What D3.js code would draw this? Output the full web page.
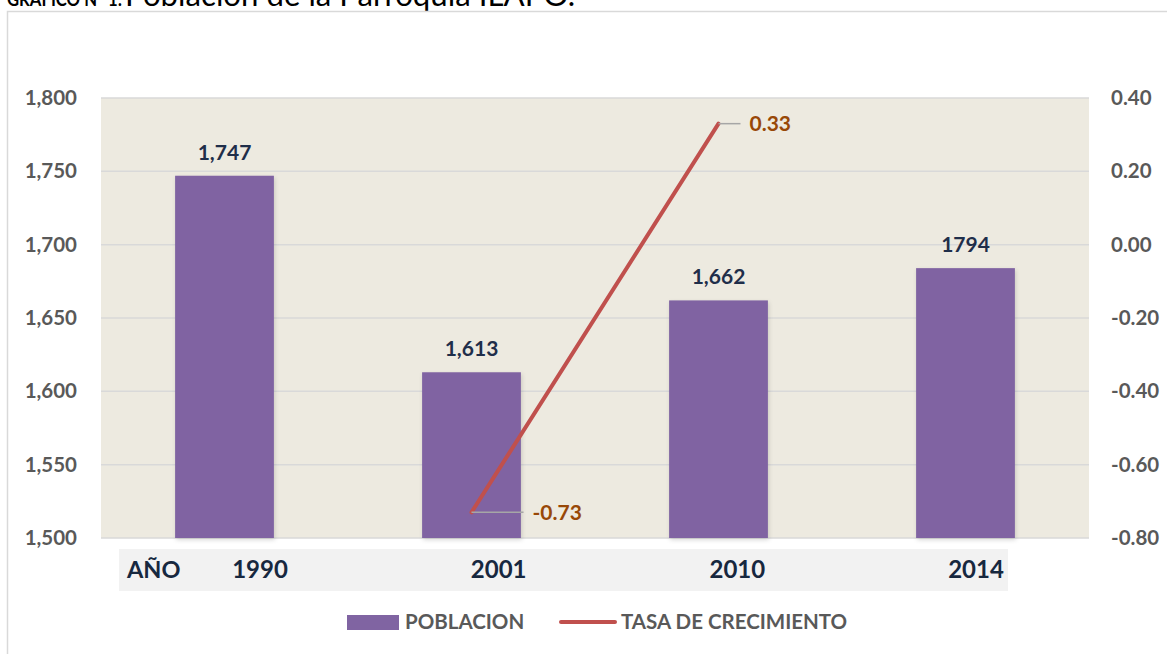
<!DOCTYPE html>
<html><head><meta charset="utf-8">
<script src="https://cdn.jsdelivr.net/npm/d3@7"></script>
<style>
html,body{margin:0;padding:0;background:#fff;}
svg{display:block;font-family:Lato,"Open Sans",sans-serif;}
</style></head>
<body>
<svg id="c" width="1167" height="654"></svg>
<script>
const categories = ["1990","2001","2010","2014"];
const poblacion = [1747, 1613, 1662, 1684];
const poblacionLabels = ["1,747","1,613","1,662","1794"];
const tasaYears = ["2001","2010"];
const tasa = [-0.73, 0.33];
const tasaLabels = ["-0.73","0.33"];
const leftTicks = [1500,1550,1600,1650,1700,1750,1800];
const rightTicks = [-0.8,-0.6,-0.4,-0.2,0,0.2,0.4];
const titleBold = "GRÁFICO N° 1:";
const titleRest = "Población de la Parroquia ILAPO.";
const axisRowLabel = "AÑO";
const legendNames = ["POBLACION","TASA DE CRECIMIENTO"];

const svg = d3.select("#c");
const m = {l:101, r:1089, t:98, b:538};

// title (cut at top, as in the source)
svg.append("text").attr("x",7).attr("y",6).attr("font-size",19).attr("font-weight","bold")
  .attr("textLength",115).attr("lengthAdjust","spacingAndGlyphs").attr("fill","#000").text(titleBold);
svg.append("text").attr("x",125).attr("y",6).attr("font-size",30)
  .attr("textLength",450).attr("lengthAdjust","spacingAndGlyphs").attr("fill","#000").text(titleRest);

// outer chart border
svg.append("path").attr("d","M1167,11.5 H7.5 V654").attr("fill","none")
  .attr("stroke","#D9D9D9").attr("stroke-width",1.5);

const x = d3.scaleBand().domain(categories).range([m.l,m.r]).paddingInner(0.6).paddingOuter(0.3);
const yL = d3.scaleLinear().domain([1500,1800]).range([m.b,m.t]);
const yR = d3.scaleLinear().domain([-0.8,0.4]).range([m.b,m.t]);

// plot background
svg.append("rect").attr("x",m.l).attr("y",m.t).attr("width",m.r-m.l).attr("height",m.b-m.t)
  .attr("fill","#EDEAE0");

// gridlines
svg.append("g").selectAll("line").data(leftTicks).join("line")
  .attr("x1",m.l).attr("x2",m.r).attr("y1",d=>yL(d)).attr("y2",d=>yL(d))
  .attr("stroke","#D9D9D9").attr("stroke-width",1.5);

// shadow filter
const defs = svg.append("defs");
const f = defs.append("filter").attr("id","sh").attr("x","-10%").attr("y","-10%").attr("width","130%").attr("height","130%");
f.append("feDropShadow").attr("dx",1).attr("dy",2).attr("stdDeviation",2).attr("flood-color","#000").attr("flood-opacity",0.15);

// bars
svg.append("g").selectAll("rect").data(categories).join("rect")
  .attr("x",d=>x(d)).attr("width",x.bandwidth())
  .attr("y",(d,i)=>yL(poblacion[i])).attr("height",(d,i)=>yL(1500)-yL(poblacion[i]))
  .attr("fill","#8064A2").attr("filter","url(#sh)");

// bar labels
svg.append("g").selectAll("text").data(categories).join("text")
  .attr("x",d=>x(d)+x.bandwidth()/2).attr("y",(d,i)=>yL(poblacion[i])-16)
  .attr("text-anchor","middle").attr("font-size",21).attr("font-weight","bold")
  .attr("fill","#1F2E4A").text((d,i)=>poblacionLabels[i]);

// left axis
const axL = d3.axisLeft(yL).tickValues(leftTicks).tickSize(0).tickPadding(0).tickFormat(d3.format(","));
const gL = svg.append("g").attr("transform",`translate(77,0)`).call(axL);
gL.select(".domain").remove();
gL.selectAll("text").attr("font-size",20.5).attr("font-weight","bold").attr("fill","#595959")
  .attr("font-family","Lato, sans-serif").attr("dy","0.32em");

// right axis
const axR = d3.axisRight(yR).tickValues(rightTicks).tickSize(0).tickPadding(0).tickFormat(d3.format(".2f"));
const gR = svg.append("g").attr("transform",`translate(1111,0)`).call(axR);
gR.select(".domain").remove();
gR.selectAll("text").attr("font-size",20.5).attr("font-weight","bold").attr("fill","#595959")
  .attr("font-family","Lato, sans-serif").attr("dy","0.32em")
  .text(d=>d3.format(".2f")(d).replace("−","-"));

// line
const cx = d=>x(d)+x.bandwidth()/2;
const line = d3.line().x((d,i)=>cx(tasaYears[i])).y(d=>yR(d));
svg.append("path").datum(tasa).attr("d",line).attr("fill","none")
  .attr("stroke","#C0504D").attr("stroke-width",4).attr("stroke-linecap","round");

// line labels with leaders
const lg = svg.append("g");
tasa.forEach((v,i)=>{
  const px = cx(tasaYears[i]), py = yR(v);
  const len = i===0 ? 52 : 22;
  lg.append("line").attr("x1",px).attr("x2",px+len).attr("y1",py).attr("y2",py)
    .attr("stroke","#A6A6A6").attr("stroke-width",1.5);
  lg.append("text").attr("x",px+len+9).attr("y",py).attr("dy","0.35em")
    .attr("font-size",21).attr("font-weight","bold").attr("fill","#984807").text(tasaLabels[i]);
});

// category table row
svg.append("rect").attr("x",119).attr("y",549).attr("width",889).attr("height",42).attr("fill","#F2F2F2");
const xl = d3.scalePoint().domain(categories).range([260,976]);
svg.append("text").attr("x",127).attr("y",570).attr("dy","0.35em").attr("font-size",23.5)
  .attr("font-weight","bold").attr("fill","#17283F").text(axisRowLabel);
svg.append("g").selectAll("text").data(categories).join("text")
  .attr("x",d=>xl(d)).attr("y",570).attr("dy","0.35em").attr("text-anchor","middle")
  .attr("font-size",24).attr("font-weight","bold").attr("fill","#17283F").text(d=>d);

// legend
const leg = svg.append("g");
leg.append("rect").attr("x",347).attr("y",615).attr("width",52).attr("height",15).attr("fill","#8064A2");
leg.append("text").attr("x",405).attr("y",622).attr("dy","0.35em").attr("font-size",20.5)
  .attr("font-weight","bold").attr("fill","#595959").text(legendNames[0]);
leg.append("line").attr("x1",561).attr("x2",615).attr("y1",622).attr("y2",622)
  .attr("stroke","#C0504D").attr("stroke-width",4).attr("stroke-linecap","round");
leg.append("text").attr("x",621).attr("y",622).attr("dy","0.35em").attr("font-size",20.5)
  .attr("font-weight","bold").attr("fill","#595959").text(legendNames[1]);
</script>
</body></html>
